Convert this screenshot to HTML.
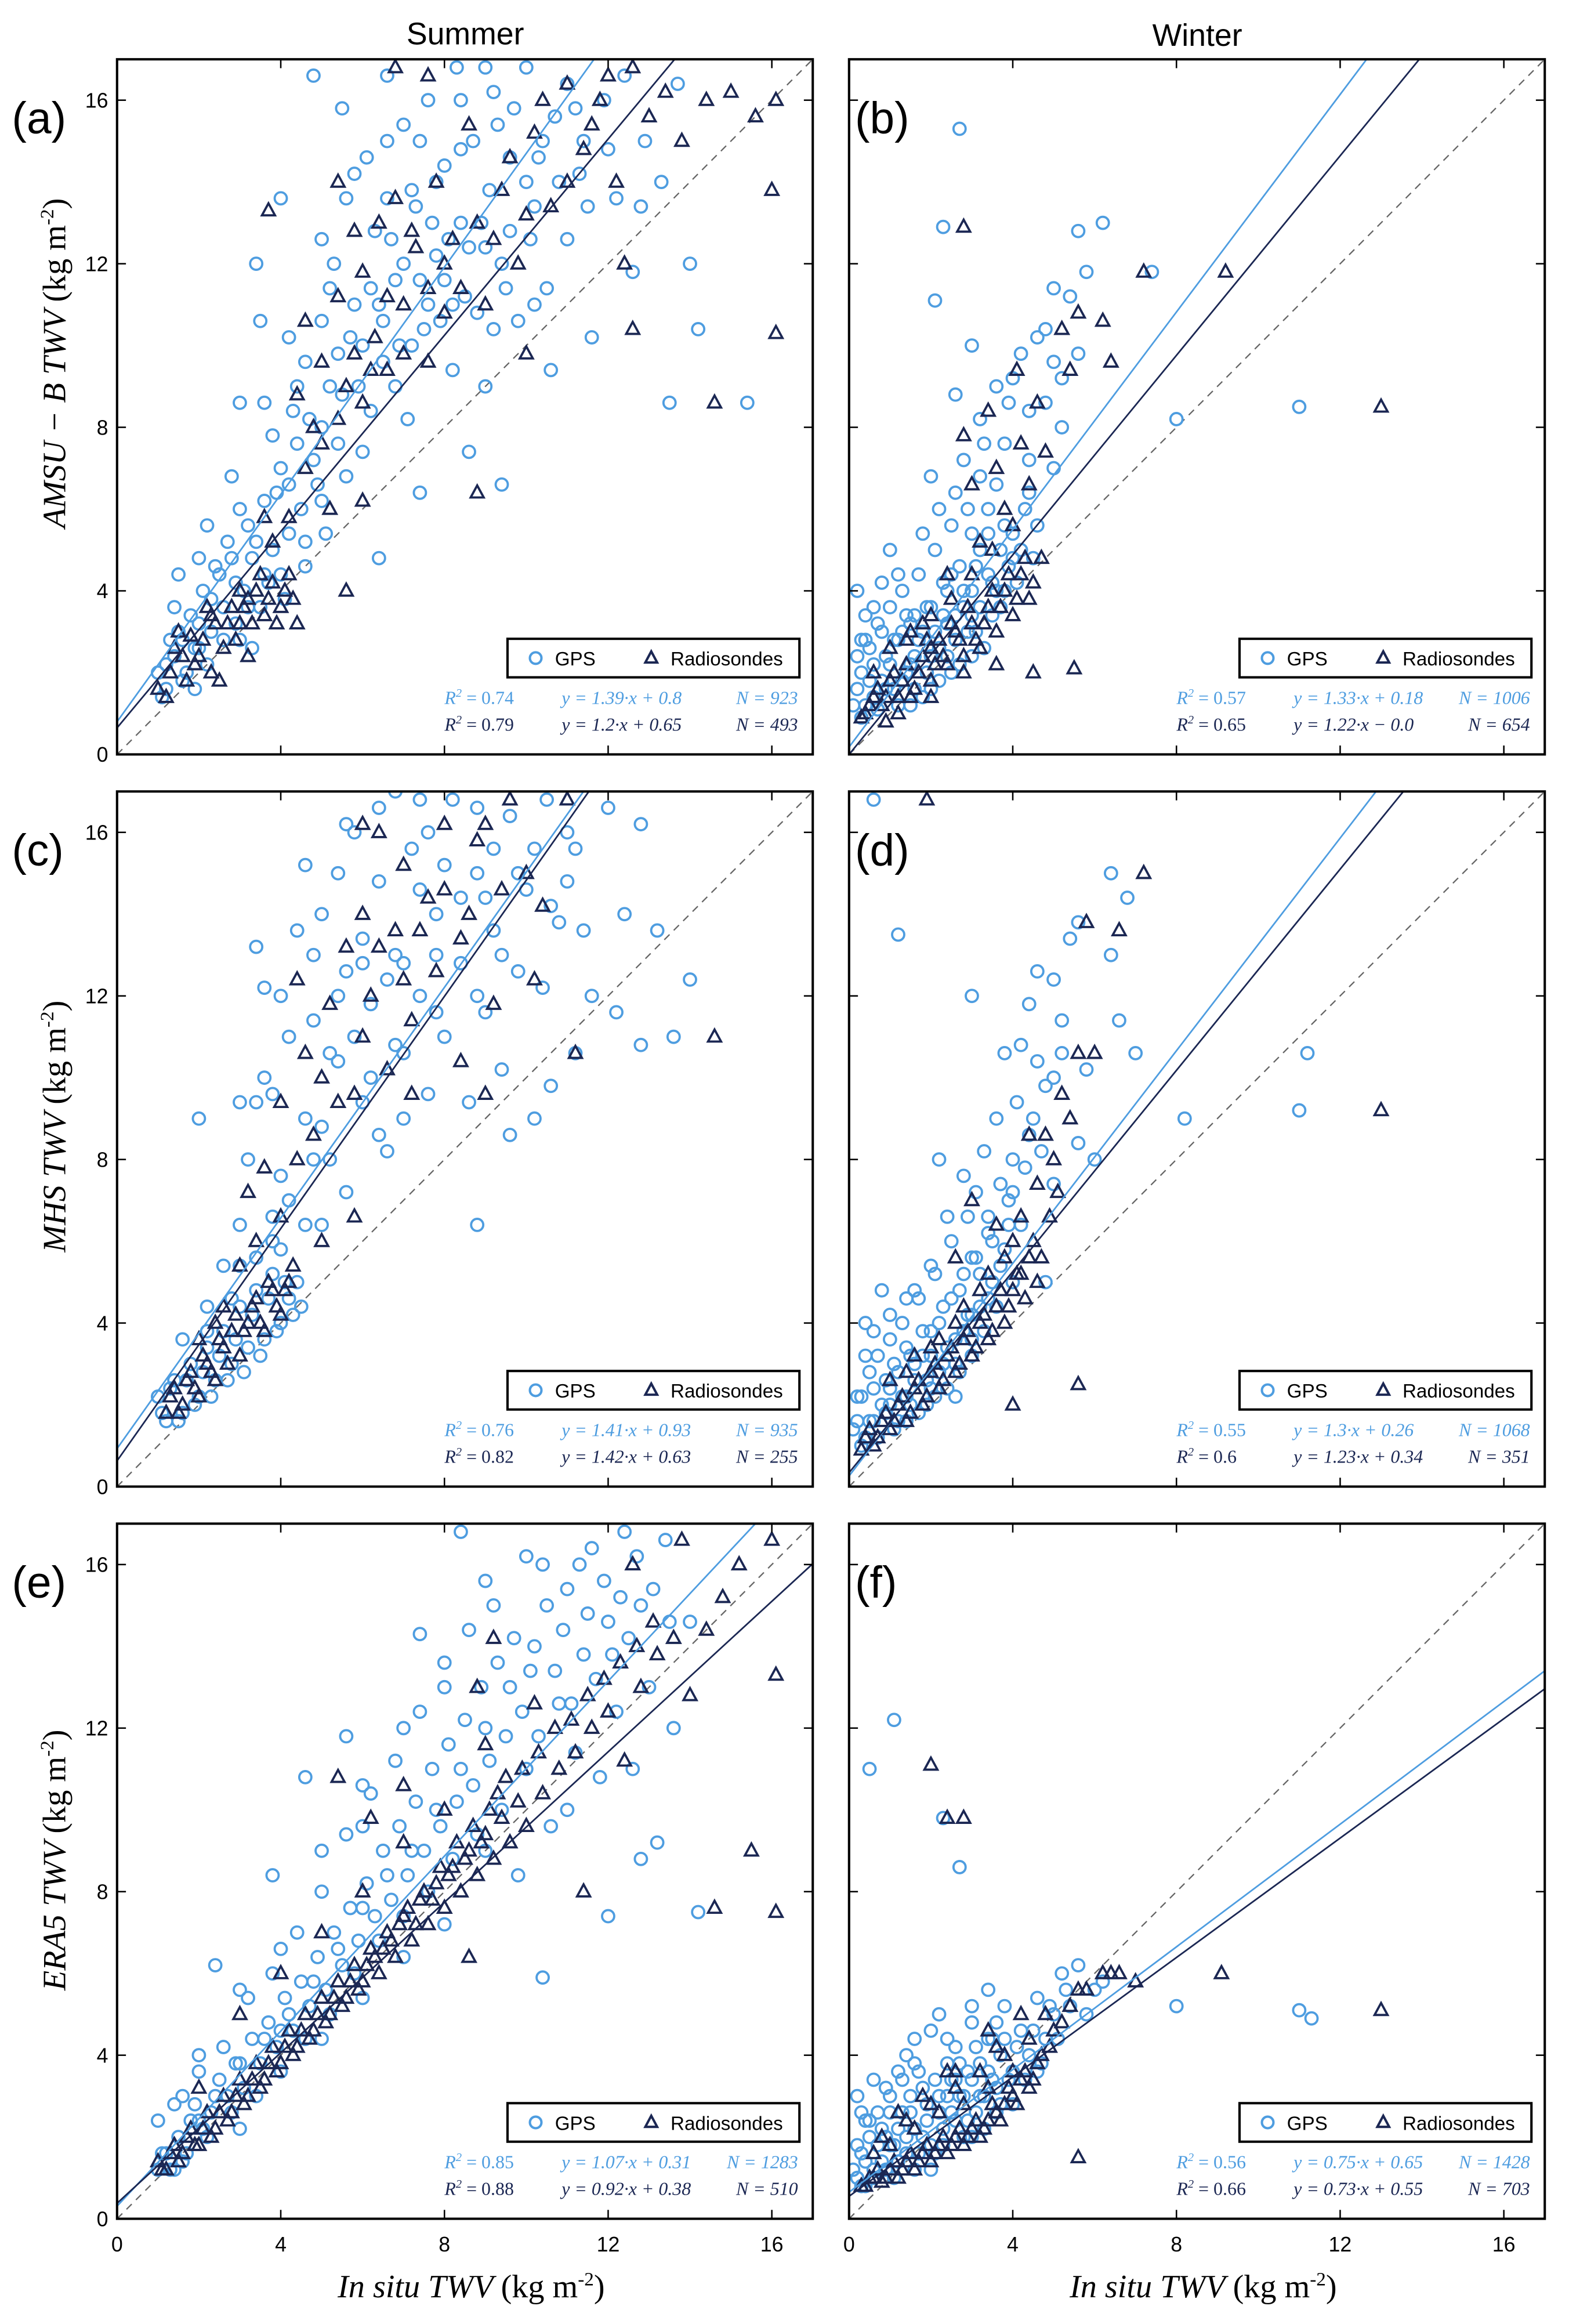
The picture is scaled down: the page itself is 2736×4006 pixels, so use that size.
<!DOCTYPE html>
<html><head><meta charset="utf-8"><title>TWV scatter comparison</title>
<style>
html,body{margin:0;padding:0;background:#fff;}
svg{display:block;}
text{font-family:"Liberation Sans","DejaVu Sans",sans-serif;}
.serif{font-family:"Liberation Serif","DejaVu Serif",serif;font-style:italic;}
</style></head>
<body>
<svg id="fig" xmlns="http://www.w3.org/2000/svg" width="2736" height="4006" viewBox="0 0 1071 1568" preserveAspectRatio="none">
<rect x="0" y="0" width="1071" height="1568" fill="#fff"/>
<defs id="defs"></defs>
<text x="314" y="30" font-size="21" text-anchor="middle">Summer</text>
<text x="808" y="31" font-size="21" text-anchor="middle">Winter</text>
<text class="serif" font-size="22" text-anchor="middle" transform="translate(44,245) rotate(-90)">AMSU − B TWV <tspan font-style="normal">(kg m<tspan font-size="13" dy="-8">-2</tspan><tspan dy="8">)</tspan></tspan></text>
<text class="serif" font-size="22" text-anchor="middle" transform="translate(44,760) rotate(-90)">MHS TWV <tspan font-style="normal">(kg m<tspan font-size="13" dy="-8">-2</tspan><tspan dy="8">)</tspan></tspan></text>
<text class="serif" font-size="22" text-anchor="middle" transform="translate(44,1255) rotate(-90)">ERA5 TWV <tspan font-style="normal">(kg m<tspan font-size="13" dy="-8">-2</tspan><tspan dy="8">)</tspan></tspan></text>
<text class="serif" x="318" y="1550" font-size="22" text-anchor="middle">In situ TWV <tspan font-style="normal">(kg m<tspan font-size="13" dy="-8">-2</tspan><tspan dy="8">)</tspan></tspan></text>
<text class="serif" x="812" y="1550" font-size="22" text-anchor="middle">In situ TWV <tspan font-style="normal">(kg m<tspan font-size="13" dy="-8">-2</tspan><tspan dy="8">)</tspan></tspan></text>
<g id="panels"></g>
</svg>
<script>
const ticks = [0, 4, 8, 12, 16];
const tickLabels = ["0", "4", "8", "12", "16"];
const panelLetters = ["(a)", "(b)", "(c)", "(d)", "(e)", "(f)"];
const gpsSlope = [1.39, 1.33, 1.41, 1.3, 1.07, 0.75];
const gpsIntercept = [0.8, 0.18, 0.93, 0.26, 0.31, 0.65];
const rsSlope = [1.2, 1.22, 1.42, 1.23, 0.92, 0.73];
const rsIntercept = [0.65, -0.0, 0.63, 0.34, 0.38, 0.55];
const gpsR2 = ["0.74", "0.57", "0.76", "0.55", "0.85", "0.56"];
const rsR2 = ["0.79", "0.65", "0.82", "0.6", "0.88", "0.66"];
const gpsEq = ["1.39·x + 0.8", "1.33·x + 0.18", "1.41·x + 0.93", "1.3·x + 0.26", "1.07·x + 0.31", "0.75·x + 0.65"];
const rsEq = ["1.2·x + 0.65", "1.22·x − 0.0", "1.42·x + 0.63", "1.23·x + 0.34", "0.92·x + 0.38", "0.73·x + 0.55"];
const gpsN = ["923", "1006", "935", "1068", "1283", "1428"];
const rsN = ["493", "654", "255", "351", "510", "703"];

const gpsA = [[1,2],[1.2,1.6],[1.4,2.4],[1.5,3],[1.7,2],[1.8,3.4],[2,2.6],[2.1,4],[2.3,3],[2.4,4.6],[2.6,3.6],[2.7,5.2],[2.9,4.2],[3,2.8],[3.2,5.6],[3.3,4.8],[3.5,3.6],[3.6,6.2],[3.8,5],[4,7],[4.1,3.8],[4.3,8.4],[4.5,6],[4.6,9.6],[4.8,7.2],[5,10.6],[5.1,5.4],[5.3,12],[5.5,8.8],[5.6,13.6],[5.8,11],[6,7.4],[6.1,14.6],[6.3,12.8],[6.5,9.6],[6.6,16.6],[6.8,11.6],[7,15.4],[7.1,8.2],[7.3,13.4],[7.5,10.4],[7.6,16],[7.8,12.2],[8,14.4],[8.2,9.4],[8.3,16.8],[8.5,11.2],[8.7,15],[8.9,13],[9,9],[9.2,16.2],[9.4,12],[9.6,14.6],[9.8,10.6],[10,16.8],[10.2,13.4],[10.5,11.4],[10.7,15.6],[11,12.6],[11.3,14.2],[11.6,10.2],[11.9,16],[12.2,13.6],[12.6,11.8],[12.9,15],[13.3,14],[13.7,16.4],[14,12],[14.2,10.4],[13.5,8.6],[15.4,8.6],[4,13.6],[3.5,10.6],[3,8.6],[3.4,12],[4.8,16.6],[5.5,15.8],[2.2,5.6],[1.5,4.4],[2.8,6.8],[6.4,4.8],[7.4,6.4],[9.4,6.6],[8.6,7.4],[10.6,9.4],[5,8],[5.4,9.8],[6,10],[6.4,11],[7,12],[7.2,10],[7.8,14],[8,11.6],[8.4,13],[9,12.4],[9.6,12.8],[10,14],[10.4,15],[11,16.4],[11.4,15],[12,14.8],[6.6,13.6],[5.2,11.4],[4.4,9],[3.8,7.8],[3,6],[2.5,4.4],[3.6,4.4],[4.2,5.4],[2,3.2],[1.6,2.8],[1.2,2.2],[3.2,3.6],[4.6,4.6]];
const gpsA2 = [[1.1,1.4],[1.3,2.8],[1.6,1.8],[1.9,2.6],[2.2,2.2],[2.3,3.8],[2.6,2.8],[2.8,4.8],[3.1,4],[3.4,5.2],[3.7,4.2],[3.9,6.4],[4.2,6.6],[4.4,7.6],[4.7,8.2],[4.9,6.6],[5.2,9],[5.4,7.6],[5.7,10.2],[5.9,9],[6.2,11.4],[6.5,10.6],[6.7,12.6],[6.9,10],[7.2,13.8],[7.4,11.6],[7.7,13],[7.9,10.6],[8.1,12.6],[8.4,14.8],[8.6,12.4],[8.8,10.8],[9.1,13.8],[9.3,15.4],[9.5,11.4],[9.7,15.8],[10.1,12.6],[10.3,14.6],[10.8,14],[11.2,15.8],[11.5,13.4],[12.4,16.6],[12.8,13.4],[2,4.8],[1.4,3.6],[1.9,1.6],[2.9,3.2],[3.3,2.6],[4,4.4],[4.6,5.2],[5,6.2],[5.6,6.8],[6.2,8.4],[6.8,9],[7.6,11],[8.2,11],[9.2,10.4],[10.2,11],[3.6,8.6],[4.2,10.2],[5,12.6],[5.8,14.2],[6.6,15],[7.4,15],[8.4,16],[9,16.8]];
const rsA = [[1,1.6],[1.3,2],[1.6,2.4],[1.9,2.2],[2.1,2.8],[2.4,3.2],[2.6,2.6],[2.8,3.6],[3,3.2],[3.2,3.8],[3.4,4],[3.6,3.4],[3.8,4.2],[4,3.6],[4.2,4.4],[4.4,3.2],[2.5,1.8],[3.2,2.4],[1.5,3],[2.2,3.6],[3.6,5.8],[4.4,8.8],[4.6,7],[5,9.6],[5.2,6],[5.6,9],[5.8,12.8],[6,8.6],[6.3,10.2],[6.6,9.4],[6.8,13.6],[7,11],[7.3,12.4],[7.6,9.6],[7.8,14],[8,10.8],[8.2,12.6],[8.6,15.4],[9,11],[9.4,13.8],[9.8,12],[10.2,15.2],[10.6,13.4],[11,16.4],[11.4,14.8],[11.8,16],[12.2,14],[12.6,16.8],[13,15.6],[13.4,16.2],[13.8,15],[14.4,16],[15,16.2],[15.6,15.6],[16.1,16],[16,13.8],[16.1,10.3],[14.6,8.6],[12.4,12],[12.6,10.4],[10,9.8],[8.8,6.4],[6,6.2],[5.6,4],[3.7,13.3],[4.6,10.6],[5.4,14],[6.8,16.8],[7.6,16.6]];
const rsA2 = [[1.2,1.4],[1.4,2.6],[1.7,1.8],[1.8,2.9],[2,2.4],[2.3,2],[2.3,3.4],[2.7,3.2],[2.9,2.8],[3.1,3.6],[3.3,3.2],[3.5,4.4],[3.7,3.8],[3.9,3.2],[4.1,4],[4.3,3.8],[3,4],[3.8,5.2],[4.2,5.8],[4.8,8],[5,7.6],[5.4,8.2],[5.8,9.8],[6.2,9.4],[6.6,11.2],[7,9.8],[7.2,12.8],[7.6,11.4],[8,12],[8.4,11.4],[8.8,13],[9.2,12.6],[9.6,14.6],[10,13.2],[10.4,16],[11,14],[11.6,15.4],[12,16.6],[5.4,11.2],[6,11.8],[6.4,13]];
const gpsB = [[0.2,1.6],[0.3,2],[0.4,1.2],[0.5,2.6],[0.6,1.4],[0.7,3.2],[0.8,1.8],[0.9,2.4],[1,3.6],[1.1,1.6],[1.2,2.8],[1.3,4],[1.4,2],[1.5,3.2],[1.6,2.4],[1.7,4.4],[1.8,3],[1.9,2],[2,3.6],[2.1,5],[2.2,2.6],[2.3,4.2],[2.4,3.2],[2.5,5.6],[2.6,2.8],[2.7,4.6],[2.8,3.6],[2.9,6],[3,4],[3.1,3],[3.2,5],[3.3,7.6],[3.4,4.4],[3.5,3.4],[3.6,6.6],[3.7,5],[3.8,4],[3.9,8.6],[4,5.4],[4.2,9.8],[4.4,7.2],[4.6,10.2],[4.8,8.6],[5,11.4],[5.2,9.2],[5.4,11.2],[5.6,12.8],[5.8,11.8],[6.2,13],[7.4,11.8],[8,8.2],[11,8.5],[2.7,15.3],[2.3,12.9],[2.1,11.1],[3,10],[2.6,8.8],[2,6.8],[0.2,4],[1,5],[1.3,3],[0.6,3.6],[3.6,9],[4.3,6],[5,7],[3,2.4],[2,1.6],[2.5,2],[1.5,1.2],[4.6,5.6],[4,4.8],[3.6,4],[0.4,2.8],[0.8,3],[1.6,3.4],[2.4,4],[3,5.4],[3.4,6],[2.8,7.2],[3.2,8.2],[4.8,10.4],[5.6,9.8]];
const gpsB2 = [[0.1,1.2],[0.2,2.4],[0.3,0.9],[0.5,1.8],[0.6,2.2],[0.7,1.1],[0.9,1.6],[1,2.2],[1.1,2.8],[1.2,1.2],[1.3,1.8],[1.4,3.4],[1.5,2.2],[1.6,1.6],[1.7,2.8],[1.8,1.4],[1.9,3.6],[2,2.4],[2.1,3],[2.2,1.8],[2.3,3.4],[2.4,2.4],[2.5,4.4],[2.6,3.4],[2.7,2.2],[2.8,4],[2.9,3],[3,3.4],[3.1,4.6],[3.2,3.6],[3.3,2.6],[3.4,5.4],[3.5,4.2],[3.7,3.6],[3.8,5.6],[3.9,4.6],[4.1,4.2],[4.2,5],[4.4,6.4],[4.5,4.8],[1.2,4.4],[0.8,4.2],[0.4,3.4],[0.3,2.8],[1.8,5.4],[2.2,6],[2.6,6.4],[3.2,6.8],[3.8,7.6],[4,9.2],[4.4,8.4],[5,9.6],[5.2,8]];
const rsB = [[0.4,1],[0.6,1.4],[0.8,1.2],[1,1.8],[1.2,1.4],[1.4,2.2],[1.6,1.6],[1.8,2.4],[2,1.8],[2.2,2.8],[2.4,2.2],[2.6,3],[2.8,2.4],[3,3.2],[3.2,2.6],[3.4,3.6],[3.6,3],[3.8,4],[4,3.4],[4.2,4.4],[4.4,3.8],[1,2.6],[1.5,3],[2,3.4],[2.5,3.8],[3,4.4],[3.5,5],[4,5.6],[2.8,7.8],[3.4,8.4],[4.1,9.4],[4.6,8.6],[5.2,10.4],[5.6,10.8],[6.2,10.6],[6.4,9.6],[7.2,11.8],[9.2,11.8],[13,8.5],[2.8,12.9],[4.5,2],[5.5,2.1],[3,6.6],[3.6,7],[4.4,6.6],[1.2,1],[2,2.6],[3.6,2.2],[0.9,0.8]];
const rsB2 = [[0.3,0.9],[0.5,1.2],[0.7,1.6],[0.9,1.4],[1.1,2],[1.3,1.8],[1.5,1.4],[1.7,2],[1.9,2.8],[2.1,2.2],[2.3,2.4],[2.5,3.2],[2.7,2.8],[2.9,3.6],[3.1,2.8],[3.3,3.2],[3.5,4],[3.7,3.6],[3.9,4.4],[4.1,3.8],[4.3,4.8],[4.5,4.2],[4.7,4.8],[1.8,3.2],[2.4,4.4],[3.2,5.2],[3.8,6],[4.2,7.6],[4.8,7.4],[5.4,9.4],[0.6,2],[1.4,2.8],[2,1.4],[2.8,2]];
const gpsC = [[1,2.2],[1.2,1.6],[1.4,2.6],[1.6,1.8],[1.8,3],[2,2.2],[2.2,3.4],[2.4,2.6],[2.6,3.8],[2.8,3],[3,4.4],[3.2,3.4],[3.4,4.8],[3.6,3.6],[3.8,5.2],[4,4],[4.2,4.6],[4.4,5],[2.6,5.4],[3,6.4],[3.2,8],[3.4,9.4],[3.6,12.2],[3.8,9.6],[4,7.6],[4.2,11],[4.4,13.6],[4.6,9],[4.8,11.4],[5,14],[5.2,8],[5.4,10.4],[5.6,12.6],[5.8,16],[6,9.4],[6.2,11.8],[6.4,14.8],[6.6,8.2],[6.8,13],[7,10.6],[7.2,15.6],[7.4,12],[7.6,9.6],[7.8,14],[8,11],[8.2,16.8],[8.4,12.8],[8.6,9.4],[8.8,15],[9,11.6],[9.2,13.6],[9.4,10.2],[9.6,16.4],[9.8,12.6],[10,14.6],[10.2,9],[10.5,16.8],[10.8,13.8],[11.2,15.6],[11.6,12],[12,16.6],[12.4,14],[12.8,16.2],[13.2,13.6],[13.6,11],[14,12.4],[12.2,11.6],[11.2,10.6],[10.6,9.8],[9.6,8.6],[8.8,6.4],[12.8,10.8],[2,9],[3,9.4],[3.4,13.2],[4.6,15.2],[5.6,16.2],[7.4,16.8],[6.8,17],[3,5.4],[4,5.8],[5,6.4],[5.6,7.2],[6.4,8.6],[7,9],[4.8,8],[2.2,4.4],[1.6,3.6],[3.8,6.6],[6,12.8],[7.8,11.6],[9,14.4],[10.4,12.2],[11,14.8]];
const gpsC2 = [[1.1,1.8],[1.3,2.4],[1.5,1.6],[1.7,2.6],[1.9,2],[2.1,2.8],[2.3,2.2],[2.5,3.2],[2.7,2.6],[2.9,3.6],[3.1,2.8],[3.3,4.2],[3.5,3.2],[3.7,4.6],[3.9,3.8],[4.1,5],[4.3,4.2],[4.5,4.4],[2.2,3.8],[2.8,4.6],[3.4,5.6],[3.8,6],[4.2,7],[4.6,6.4],[5,8.8],[5.2,10.6],[5.4,12],[5.8,11],[6,13.4],[6.2,10],[6.6,12.4],[6.8,10.8],[7,12.8],[7.4,14.6],[7.8,13],[8,15.2],[8.4,14.4],[8.8,12],[9.2,15.6],[9.4,13],[9.8,15],[10.2,15.6],[10.6,14.2],[11,16],[11.4,13.6],[3.6,10],[4,12],[4.8,13],[5.4,15],[6.4,16.6],[7.6,16],[8.8,16.6]];
const rsC = [[1.2,1.8],[1.4,2.4],[1.6,2],[1.8,2.8],[2,2.2],[2.2,3],[2.4,2.6],[2.6,3.4],[2.8,3.8],[3,3.2],[3.2,4],[3.4,4.6],[3.6,3.8],[3.8,4.8],[4,4.2],[4.2,5],[2.6,4.4],[2,3.6],[3,5.4],[3.2,7.2],[3.6,7.8],[4,9.4],[4.4,12.4],[4.6,10.6],[4.8,8.6],[5.2,11.8],[5.6,13.2],[5.8,9.6],[6,14],[6.2,12],[6.4,16],[6.6,10.2],[6.8,13.6],[7,15.2],[7.2,11.4],[7.6,14.4],[7.8,12.6],[8,16.2],[8.4,13.4],[8.8,15.8],[9.2,11.8],[9.6,16.8],[10,15],[10.4,14.2],[11,16.8],[10.2,12.4],[9,9.6],[11.2,10.6],[14.6,11],[5,6],[5.8,6.6],[7.2,9.6],[8.4,10.4],[6,16.2]];
const rsC2 = [[1.3,2.2],[1.5,1.8],[1.7,2.6],[1.9,2.4],[2.1,3.2],[2.3,2.8],[2.5,3.6],[2.7,3],[2.9,4.2],[3.1,3.8],[3.3,4.4],[3.5,4],[3.7,5],[3.9,4.4],[4.1,4.8],[4.3,5.4],[2.4,4],[3.4,6],[4,6.6],[4.4,8],[5,10],[5.4,9.4],[6,11],[6.4,13.2],[7,12.4],[7.4,13.6],[8,14.6],[8.6,14],[9,16.2],[9.4,14.6]];
const gpsD = [[0.2,1.6],[0.3,2.2],[0.4,1.2],[0.5,2.8],[0.6,1.6],[0.7,3.2],[0.8,2],[0.9,2.6],[1,3.6],[1.1,1.4],[1.2,2.8],[1.3,4],[1.4,2.2],[1.5,3.2],[1.6,2.6],[1.7,4.6],[1.8,3.2],[1.9,2],[2,3.8],[2.1,5.2],[2.2,2.8],[2.3,4.4],[2.4,3.4],[2.5,6],[2.6,3],[2.7,4.8],[2.8,3.8],[2.9,6.6],[3,4.2],[3.1,7.2],[3.2,5.2],[3.3,8.2],[3.4,4.6],[3.5,6],[3.6,9],[3.7,5.4],[3.8,10.6],[3.9,7],[4,8],[4.2,10.8],[4.4,8.6],[4.6,10.4],[4.8,9.8],[5,12.4],[5.2,10.6],[5.4,13.4],[5.6,13.8],[5.8,10.2],[6.4,15],[6.6,11.4],[6.8,14.4],[7,10.6],[6.4,13],[3,12],[1.2,13.5],[0.6,16.8],[0.4,4],[8.2,9],[11,9.2],[11.2,10.6],[6,8],[4.8,5],[4.2,6.4],[2.2,8],[1.6,4.8],[3.4,6.6],[0.8,4.8],[1,2],[2,2.4],[3,3.2],[1.4,1.6],[2.6,2.2],[4,5],[5.6,8.4],[5,7.4],[3,5.6],[4.6,12.6]];
const gpsD2 = [[0.1,1.4],[0.2,2.2],[0.3,1],[0.5,1.6],[0.6,2.4],[0.7,1.2],[0.9,1.8],[1,2.4],[1.1,3],[1.2,1.6],[1.3,2.2],[1.4,3.4],[1.5,2],[1.6,3],[1.7,1.8],[1.8,3.8],[1.9,2.6],[2,3.2],[2.1,2.2],[2.2,4],[2.3,3],[2.4,2.4],[2.5,4.6],[2.6,3.6],[2.7,2.8],[2.8,5.2],[2.9,4.2],[3,3.6],[3.1,5.6],[3.2,4.4],[3.3,3.8],[3.4,6.2],[3.5,5],[3.6,4.4],[3.7,7.4],[3.8,5.8],[3.9,6.4],[4,7.2],[4.1,9.4],[4.3,7.8],[4.5,9],[4.7,8.2],[0.4,3.2],[0.6,3.8],[1,4.2],[1.4,4.6],[2,5.4],[2.4,6.6],[2.8,7.6],[5.2,11.4],[4.4,11.8],[5,10]];
const rsD = [[0.4,1.2],[0.6,1],[0.8,1.6],[1,1.4],[1.2,2],[1.4,1.6],[1.6,2.4],[1.8,2],[2,2.8],[2.2,2.4],[2.4,3.2],[2.6,2.8],[2.8,3.6],[3,3.2],[3.2,4],[3.4,3.6],[3.6,4.4],[3.8,4],[4,4.8],[4.2,5.2],[4.4,5.6],[4.6,5],[1,2.6],[1.6,3.2],[2.2,3.6],[2.8,4.4],[3.4,5.2],[4,6],[4.6,7.4],[5,8],[5.4,9],[5.6,10.6],[6,10.6],[6.6,13.6],[5.8,13.8],[7.2,15],[1.9,16.8],[13,9.2],[5.6,2.5],[4,2],[3,7],[4.4,8.6],[2.6,5.6],[3.6,6.4]];
const rsD2 = [[0.3,0.9],[0.5,1.4],[0.7,1.2],[0.9,1.8],[1.1,1.6],[1.3,2.2],[1.5,1.8],[1.7,2.6],[1.9,2.2],[2.1,3],[2.3,2.6],[2.5,3.4],[2.7,3],[2.9,3.8],[3.1,3.4],[3.3,4.2],[3.5,3.8],[3.7,4.8],[3.9,4.4],[4.1,5.2],[4.3,4.6],[4.5,6],[4.7,5.6],[4.9,6.6],[5.1,7.2],[1.4,2.8],[2,3.4],[2.6,4],[3.2,4.8],[3.8,5.6],[4.2,6.6],[4.8,8.6],[5.2,9.6]];
const gpsE = [[1,1.2],[1,2.4],[1.2,1.6],[1.4,2.8],[1.6,1.4],[1.8,2.4],[2,3.6],[2.2,2],[2.4,3],[2.6,4.2],[2.8,2.6],[3,3.8],[3.2,5.4],[3.4,3],[3.6,4.4],[3.8,6],[4,3.6],[4.2,5],[4.4,7],[4.6,4.4],[4.8,5.8],[5,8],[5.2,5],[5.4,6.6],[5.6,9.4],[5.8,6],[6,7.6],[6.2,10.4],[6.4,6.8],[6.6,8.4],[6.8,11.2],[7,7.4],[7.2,9],[7.4,12.4],[7.6,8],[7.8,10],[8,13],[8.2,8.8],[8.4,11],[8.6,14.4],[8.8,9.4],[9,12],[9.2,15],[9.4,10],[9.6,13],[9.8,8.4],[10,11],[10.2,14],[10.4,16],[10.6,9.6],[10.8,12.6],[11,15.4],[11.2,11.4],[11.4,13.8],[11.6,16.4],[11.8,10.8],[12,14.6],[12.2,12.4],[12.4,16.8],[12.6,11],[12.8,15],[13,13],[13.4,16.6],[13.6,12],[14,14.6],[14.2,7.5],[12,7.4],[10.4,5.9],[4.6,10.8],[5.6,11.8],[3.8,8.4],[2.4,6.2],[8.4,16.8],[10,16.2],[7.4,14.3],[6,9.6],[9,9],[11,10],[13.2,9.2],[12.8,8.8],[3,2.2],[5,4.4],[7,6.4],[4,4.6],[6,5.4],[2,2.4],[1.4,1.2],[8,7.2]];
const gpsE2 = [[1.1,1.6],[1.3,1.2],[1.5,2],[1.7,1.6],[1.9,2.8],[2.1,2.2],[2.3,2.6],[2.5,3.4],[2.7,3],[2.9,3.8],[3.1,3.2],[3.3,4.4],[3.5,3.8],[3.7,4.8],[3.9,4.2],[4.1,5.4],[4.3,4.6],[4.5,5.8],[4.7,5.2],[4.9,6.4],[5.1,5.6],[5.3,7],[5.5,6.2],[5.7,7.6],[5.9,6.8],[6.1,8.2],[6.3,7.4],[6.5,9],[6.7,7.8],[6.9,9.6],[7.1,8.4],[7.3,10.2],[7.5,9],[7.7,11],[7.9,9.6],[8.1,11.6],[8.3,10.2],[8.5,12.2],[8.7,10.6],[8.9,13],[9.1,11.2],[9.3,13.6],[9.5,11.8],[9.7,14.2],[9.9,12.4],[10.1,13.4],[10.3,11.8],[10.5,15],[10.7,13.4],[10.9,14.4],[11.1,12.6],[11.3,16],[11.5,14.8],[11.7,13.2],[11.9,15.6],[12.1,13.8],[12.3,15.2],[12.5,14.2],[12.7,16.2],[13.1,15.4],[13.5,14.6],[3,5.6],[4,6.6],[5,9],[6,10.6],[7,12],[8,13.6],[9,15.6],[2,4],[1.6,3]];
const rsE = [[1,1.4],[1.2,1.2],[1.4,1.8],[1.6,1.6],[1.8,2.2],[2,1.8],[2.2,2.6],[2.4,2.2],[2.6,3],[2.8,2.6],[3,3.4],[3.2,3],[3.4,3.8],[3.6,3.4],[3.8,4.2],[4,3.8],[4.2,4.6],[4.4,4.2],[4.6,5],[4.8,4.6],[5,5.4],[5.2,5],[5.4,5.8],[5.6,5.4],[5.8,6.2],[6,5.8],[6.2,6.6],[6.4,6],[6.6,7],[6.8,6.4],[7,7.4],[7.2,6.8],[7.4,7.8],[7.6,7.2],[7.8,8.2],[8,7.6],[8.2,8.6],[8.4,8],[8.6,9],[8.8,8.4],[9,9.4],[9.2,8.8],[9.4,9.8],[9.6,9.2],[9.8,10.2],[10,9.6],[10.4,10.4],[10.8,11],[11.2,11.4],[11.6,12],[12,12.4],[12.4,11.2],[12.8,13],[13.2,13.8],[13.6,14.2],[14,12.8],[14.4,14.4],[14.8,15.2],[15.2,16],[16,16.6],[16.1,13.3],[16.1,7.5],[15.5,9],[14.6,7.6],[11.4,8],[8.6,6.4],[6.2,9.8],[5.4,10.8],[8.8,13],[9.2,14.2],[10.2,12.6],[12.6,16],[13.8,16.6],[7,10.6],[4,6],[3,5],[2,3.2]];
const rsE2 = [[1.1,1.2],[1.3,1.6],[1.5,1.4],[1.7,2],[1.9,1.8],[2.1,2.2],[2.3,2],[2.5,2.6],[2.7,2.4],[2.9,3],[3.1,2.8],[3.3,3.4],[3.5,3.2],[3.7,3.8],[3.9,3.6],[4.1,4.2],[4.3,4],[4.5,4.6],[4.7,4.4],[4.9,5],[5.1,4.8],[5.3,5.4],[5.5,5.2],[5.7,5.8],[5.9,5.6],[6.1,6.2],[6.3,6.4],[6.5,6.6],[6.7,6.8],[6.9,7.2],[7.1,7.6],[7.3,7.2],[7.5,8],[7.7,7.8],[7.9,8.6],[8.1,8.4],[8.3,9.2],[8.5,8.8],[8.7,9.6],[8.9,9.2],[9.1,10],[9.3,10.4],[9.5,10.8],[9.9,11],[10.3,11.4],[10.7,12],[11.1,12.2],[11.5,12.8],[11.9,13.2],[12.3,13.6],[12.7,14],[13.1,14.6],[5,7],[6,8],[7,9.2],[8,10],[9,11.6]];
const gpsF = [[0.2,1],[0.3,1.6],[0.4,0.8],[0.5,2],[0.6,1.2],[0.7,2.6],[0.8,1.4],[0.9,2],[1,3],[1.1,1],[1.2,2.2],[1.3,3.4],[1.4,1.6],[1.5,2.6],[1.6,1.2],[1.7,3.6],[1.8,2],[1.9,2.8],[2,4.6],[2.1,1.6],[2.2,3],[2.3,2.2],[2.4,3.8],[2.5,2.6],[2.6,4.2],[2.7,3],[2.8,2],[2.9,3.6],[3,4.8],[3.1,2.6],[3.2,3.8],[3.3,3],[3.4,4.4],[3.5,3.4],[3.6,2.6],[3.7,4],[3.8,5.2],[4,3.6],[4.2,4.6],[4.4,4],[4.6,5.4],[4.8,4.4],[5,5],[5.2,6],[5.4,5.2],[5.6,6.2],[6,5.6],[0.5,11],[1.1,12.2],[2.3,9.8],[2.7,8.6],[8,5.2],[11,5.1],[11.3,4.9],[0.2,3],[0.6,3.4],[1.4,4],[2.2,5],[1,1.8],[2,1.2],[3,2],[4,2.8],[1.6,4.4],[3.4,5.6],[2.6,3.4],[0.4,2.4],[4.6,3.6]];
const gpsF2 = [[0.1,1.2],[0.2,1.8],[0.3,0.8],[0.4,1.4],[0.5,2.4],[0.6,1],[0.7,1.8],[0.8,2.2],[0.9,1.2],[1,2.6],[1.1,1.8],[1.2,1.4],[1.3,2.6],[1.4,2],[1.5,3],[1.6,2.2],[1.7,1.6],[1.8,3.2],[1.9,2.4],[2,1.8],[2.1,3.4],[2.2,2.6],[2.3,1.8],[2.4,3],[2.5,3.4],[2.6,2.4],[2.7,3.8],[2.8,3],[2.9,2.4],[3,3.4],[3.1,4.2],[3.2,3],[3.3,2.2],[3.4,3.6],[3.5,4.4],[3.6,3.2],[3.7,2.8],[3.8,4.4],[3.9,3.4],[4.1,4.2],[4.3,3.4],[4.5,4.6],[4.7,3.8],[4.9,5.2],[5.1,4.4],[5.3,5.6],[5.8,5],[6.2,5.8],[0.3,2.6],[0.9,3.2],[1.2,3.6],[1.6,3.8],[2.4,4.4],[3,5.2],[3.6,4.8]];
const rsF = [[0.4,0.8],[0.6,1],[0.8,0.9],[1,1.2],[1.2,1],[1.4,1.4],[1.6,1.2],[1.8,1.6],[2,1.4],[2.2,1.8],[2.4,1.6],[2.6,2],[2.8,1.8],[3,2.2],[3.2,2],[3.4,2.4],[3.6,2.6],[3.8,2.8],[4,3],[4.2,3.4],[4.4,3.2],[4.6,3.8],[0.8,2],[1.4,2.4],[2,2.8],[2.6,3.2],[3.2,3.6],[3.8,4],[4.4,4.4],[5,4.6],[5.4,5.2],[5.8,5.6],[6.2,6],[6.6,6],[7,5.8],[9.1,6],[13,5.1],[5.6,1.5],[2,11.1],[2.4,9.8],[2.8,9.8],[1.2,2.6],[2.4,3.6],[3.4,4.6],[4.8,5]];
const rsF2 = [[0.3,0.8],[0.5,1],[0.7,1.2],[0.9,1],[1.1,1.4],[1.3,1.2],[1.5,1.6],[1.7,1.4],[1.9,1.8],[2.1,1.6],[2.3,2],[2.5,1.8],[2.7,2.2],[2.9,2],[3.1,2.4],[3.3,2.2],[3.5,2.8],[3.7,2.4],[3.9,3.2],[4.1,2.8],[4.3,3.6],[4.5,3.4],[4.7,4],[4.9,4.2],[5.2,4.8],[0.6,1.6],[1,1.8],[1.6,2.2],[2.2,2.6],[2.8,2.8],[3.4,3.2],[4,3.6],[1.8,3],[2.6,3.6],[3.6,4.2],[4.2,5],[5.6,5.6],[6.4,6]];

const gpsSeries = [gpsA.concat(gpsA2), gpsB.concat(gpsB2), gpsC.concat(gpsC2), gpsD.concat(gpsD2), gpsE.concat(gpsE2), gpsF.concat(gpsF2)];
const rsSeries = [rsA.concat(rsA2), rsB.concat(rsB2), rsC.concat(rsC2), rsD.concat(rsD2), rsE.concat(rsE2), rsF.concat(rsF2)];

const NS = "http://www.w3.org/2000/svg";
const LIGHT = "#4e9de0", DARK = "#1b2753";
const PW = 469.5, PH = 469, VMAX = 17;
const colX = [79, 573];
const rowY = [40, 534, 1028];
const root = document.getElementById("panels");
const defs = document.getElementById("defs");

function mk(tag, attrs, parent) {
  const e = document.createElementNS(NS, tag);
  for (const k in attrs) e.setAttribute(k, attrs[k]);
  parent.appendChild(e);
  return e;
}

for (let p = 0; p < 6; p++) {
  const col = p % 2, row = Math.floor(p / 2);
  const x0 = colX[col], y0 = rowY[row];
  const sx = v => x0 + v * PW / VMAX;
  const sy = v => y0 + PH - v * PH / VMAX;
  const g = mk("g", {}, root);
  
  

  const cp = mk("clipPath", { id: "clip" + p }, defs);
  mk("rect", { x: x0, y: y0, width: PW, height: PH }, cp);
  const plot = mk("g", { "clip-path": "url(#clip" + p + ")" }, g);

  const one = mk("line", { x1: sx(0), y1: sy(0), x2: sx(VMAX), y2: sy(VMAX), stroke: "#666", "stroke-width": 0.9, "stroke-dasharray": "5,4" }, plot);
  
  

  const gg = mk("g", {}, plot);
  
  
  for (const d of gpsSeries[p]) {
    const c = mk("circle", { cx: sx(d[0]), cy: sy(d[1]), r: 4.1, fill: "none", stroke: LIGHT, "stroke-width": 1.5 }, gg);
    
    
  }
  const rg = mk("g", {}, plot);
  
  
  for (const d of rsSeries[p]) {
    const cx = sx(d[0]), cy = sy(d[1]);
    const t = mk("polygon", { points: `${cx},${cy - 4.9} ${cx - 4.4},${cy + 3.2} ${cx + 4.4},${cy + 3.2}`, fill: "none", stroke: DARK, "stroke-width": 1.5 }, rg);
    
    
  }

  const lg = mk("line", { x1: sx(0), y1: sy(gpsIntercept[p]), x2: sx(VMAX), y2: sy(gpsIntercept[p] + gpsSlope[p] * VMAX), stroke: LIGHT, "stroke-width": 1.1 }, plot);
  
  
  const lr = mk("line", { x1: sx(0), y1: sy(rsIntercept[p]), x2: sx(VMAX), y2: sy(rsIntercept[p] + rsSlope[p] * VMAX), stroke: DARK, "stroke-width": 1.1 }, plot);
  
  

  const fr = mk("rect", { x: x0, y: y0, width: PW, height: PH, fill: "none", stroke: "#000", "stroke-width": 1.6 }, g);
  
  

  ticks.forEach((v, i) => {
    mk("line", { x1: sx(v), y1: y0 + PH, x2: sx(v), y2: y0 + PH - 6, stroke: "#000", "stroke-width": 1 }, g);
    mk("line", { x1: sx(v), y1: y0, x2: sx(v), y2: y0 + 6, stroke: "#000", "stroke-width": 1 }, g);
    mk("line", { x1: x0, y1: sy(v), x2: x0 + 6, y2: sy(v), stroke: "#000", "stroke-width": 1 }, g);
    mk("line", { x1: x0 + PW, y1: sy(v), x2: x0 + PW - 6, y2: sy(v), stroke: "#000", "stroke-width": 1 }, g);
    if (col === 0) {
      const t = mk("text", { x: x0 - 6, y: sy(v) + 5, "font-size": 14, "text-anchor": "end" }, g);
      t.textContent = tickLabels[i];
      
      
    }
    if (row === 2) {
      const t = mk("text", { x: sx(v), y: y0 + PH + 22, "font-size": 14, "text-anchor": "middle" }, g);
      t.textContent = tickLabels[i];
      
      
    }
  });

  const pl = mk("text", { x: col === 0 ? 8 : x0 + 4, y: y0 + 50, "font-size": 30 }, g);
  pl.textContent = panelLetters[p];
  
  

  const lx = x0 + PW - 206, ly = y0 + 391;
  const leg = mk("g", {}, g);
  
  
  mk("rect", { x: lx, y: ly, width: 197, height: 26, fill: "#fff", stroke: "#000", "stroke-width": 1.6 }, leg);
  mk("circle", { cx: lx + 19, cy: ly + 13, r: 3.9, fill: "none", stroke: LIGHT, "stroke-width": 1.6 }, leg);
  const t1 = mk("text", { x: lx + 32, y: ly + 18, "font-size": 13 }, leg);
  t1.textContent = "GPS";
  
  
  const tx = lx + 97, ty = ly + 13;
  mk("polygon", { points: `${tx},${ty - 4.5} ${tx - 4},${ty + 3} ${tx + 4},${ty + 3}`, fill: "none", stroke: DARK, "stroke-width": 1.6 }, leg);
  const t2 = mk("text", { x: lx + 110, y: ly + 18, "font-size": 13 }, leg);
  t2.textContent = "Radiosondes";
  
  

  const rowsS = [[LIGHT, gpsR2[p], gpsEq[p], gpsN[p], 435], [DARK, rsR2[p], rsEq[p], rsN[p], 453]];
  rowsS.forEach((r, k) => {
    const yy = y0 + r[4];
    const a = mk("text", { x: x0 + 221, y: yy, "font-size": 12.5, fill: r[0], class: "serif" }, g);
    a.innerHTML = 'R<tspan font-size="8" dy="-5">2</tspan><tspan dy="5" font-style="normal"> = ' + r[1] + '</tspan>';
    
    
    const b = mk("text", { x: x0 + 300, y: yy, "font-size": 12.5, fill: r[0], class: "serif" }, g);
    b.textContent = "y = " + r[2];
    
    
    const c = mk("text", { x: x0 + PW - 10, y: yy, "font-size": 12.5, fill: r[0], class: "serif", "text-anchor": "end" }, g);
    c.textContent = "N = " + r[3];
    
    
  });
}
</script>
</body></html>
